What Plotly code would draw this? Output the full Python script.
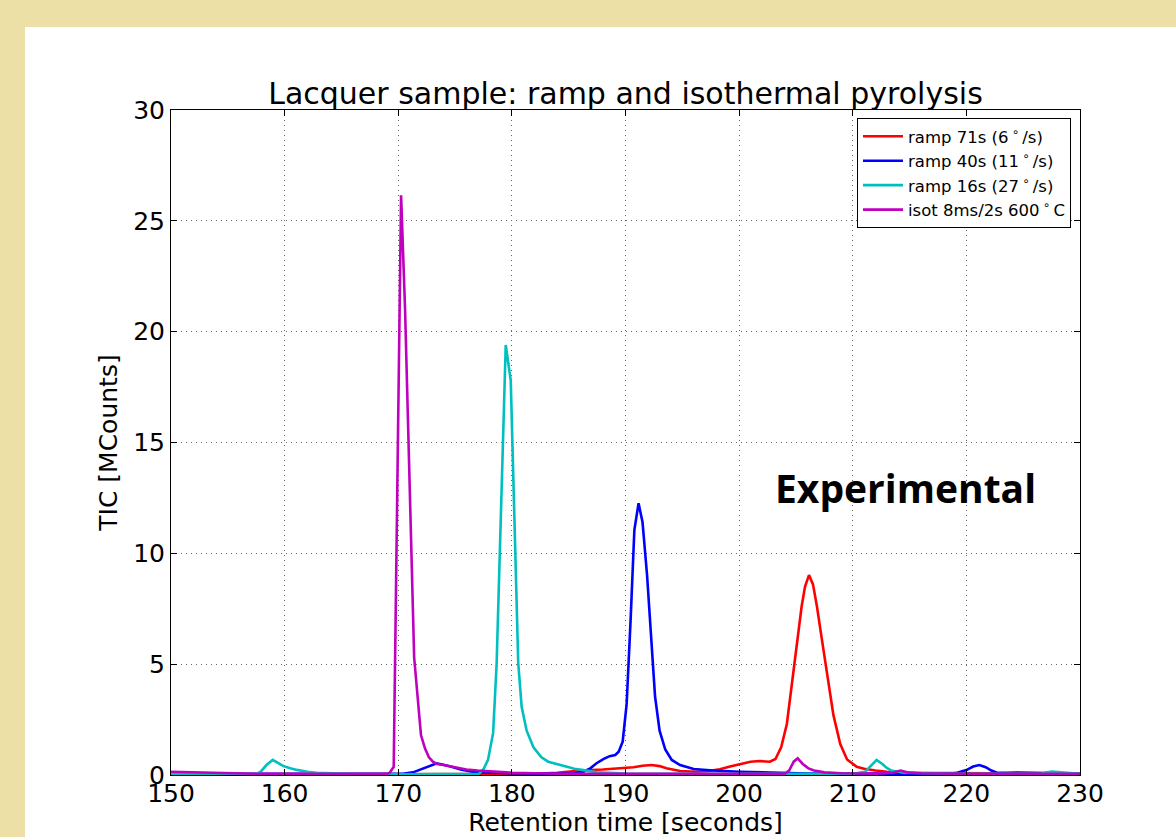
import plotly.graph_objects as go

# ---- data ----
red_x = [150, 160, 170, 180, 182, 184, 186, 188, 189, 190.7, 191.5, 192.3, 193.0, 193.6, 194.8, 196.3,
         197.3, 198.3, 199.2, 200.1, 201.0, 201.8, 202.7, 203.2, 203.7, 204.2, 204.6, 205.05, 205.5,
         205.8, 206.15, 206.5, 206.85, 207.2, 207.7, 208.3, 208.9, 209.5, 210.35, 211, 212, 213, 215,
         218, 222, 224.5, 226, 230]
red_y = [0.02, 0.02, 0.02, 0.03, 0.05, 0.1, 0.2, 0.25, 0.28, 0.35, 0.42, 0.45, 0.4, 0.3, 0.18, 0.15,
         0.18, 0.26, 0.38, 0.5, 0.6, 0.63, 0.6, 0.72, 1.25, 2.3, 4.0, 5.9, 7.6,
         8.5, 9.02, 8.6, 7.6, 6.4, 4.7, 2.7, 1.4, 0.7, 0.37, 0.28, 0.2, 0.15, 0.1,
         0.08, 0.08, 0.12, 0.1, 0.05]

blue_x = [150, 160, 170.4, 171.3, 172.2, 173.4, 174.6, 175.5, 176.5, 178, 180, 183, 185.5, 186.3, 186.9,
          187.45, 188.05, 188.6, 189.1, 189.4, 189.75, 190.1, 190.45, 190.78, 191.15, 191.5, 191.9,
          192.25, 192.6, 193.0, 193.5, 194.07, 194.8, 196.0, 197.7, 200, 203, 206, 210, 215, 218.5,
          219.2, 220, 220.6, 221.14, 221.7, 222.2, 222.7, 224, 226.5, 227.5, 228.5, 230]
blue_y = [0.05, 0.05, 0.05, 0.12, 0.3, 0.53, 0.38, 0.25, 0.15, 0.1, 0.08, 0.06, 0.08, 0.15, 0.3,
          0.53, 0.72, 0.85, 0.9, 1.05, 1.5, 3.2, 7.0, 11.05, 12.26, 11.4, 9.0,
          6.0, 3.55, 2.0, 1.15, 0.68, 0.45, 0.27, 0.2, 0.15, 0.1, 0.07, 0.06, 0.05, 0.06,
          0.1, 0.22, 0.38, 0.45, 0.35, 0.2, 0.1, 0.06, 0.06, 0.12, 0.08, 0.05]

cyan_x = [150, 157.5, 157.9, 158.4, 158.95, 159.4, 159.9, 160.5, 161.06, 162, 162.8, 165, 170, 177.1,
          177.5, 177.9, 178.35, 178.66, 179.06, 179.46, 179.9, 180.56, 180.86, 181.3, 181.9, 182.6,
          183.2, 183.9, 184.8, 185.5, 186.3, 187.5, 190, 200, 210, 211.1, 211.7, 212.1, 212.6, 213,
          213.4, 214.5, 220, 226.5, 227.5, 228.5, 230]
cyan_y = [0.05, 0.05, 0.15, 0.45, 0.68, 0.55, 0.4, 0.3, 0.23, 0.15, 0.1, 0.06, 0.03, 0.05,
          0.26, 0.68, 1.9, 5.04, 12.2, 19.4, 17.8, 5.05, 3.08, 2.0, 1.25, 0.8,
          0.6, 0.5, 0.35, 0.28, 0.22, 0.12, 0.06, 0.05, 0.05, 0.15, 0.45, 0.68, 0.5, 0.32,
          0.2, 0.1, 0.05, 0.05, 0.15, 0.1, 0.05]

mag_x = [150, 152, 154, 156, 158, 160, 165, 169, 169.25, 169.6, 170.25, 170.6, 171.4, 171.76, 172.0,
         172.35, 172.7, 173.05, 173.4, 174, 175, 176, 177, 178.5, 180, 182, 185, 195, 204.0, 204.4,
         204.8, 205.15, 205.6, 206.1, 206.6, 207.5, 209, 212, 213.5, 214.2, 214.8, 216, 220, 230]
mag_y = [0.15, 0.12, 0.08, 0.06, 0.05, 0.05, 0.05, 0.05, 0.1, 0.37, 26.15, 21.0, 5.3, 3.0, 1.8,
         1.2, 0.8, 0.6, 0.5, 0.45, 0.35, 0.25, 0.2, 0.15, 0.1, 0.08, 0.05, 0.05, 0.05, 0.2,
         0.6, 0.75, 0.5, 0.3, 0.2, 0.12, 0.08, 0.06, 0.1, 0.2, 0.12, 0.08, 0.05, 0.05]

names = ["ramp 71s (6\u2009<sup>\u2218</sup>\u2009/s)",
         "ramp 40s (11\u2009<sup>\u2218</sup>\u2009/s)",
         "ramp 16s (27\u2009<sup>\u2218</sup>\u2009/s)",
         "isot 8ms/2s 600\u2009<sup>\u2218</sup>\u2009C"]
colors = ["#FF0000", "#0000FF", "#00BFBF", "#BF00BF"]
xs = [red_x, blue_x, cyan_x, mag_x]
ys = [red_y, blue_y, cyan_y, mag_y]

x_ticks = [150, 160, 170, 180, 190, 200, 210, 220, 230]
y_ticks = [0, 5, 10, 15, 20, 25, 30]

fig = go.Figure()
for i, (x, y, n, c) in enumerate(zip(xs, ys, names, colors)):
    fig.add_trace(go.Scatter(x=x, y=y, mode="lines", name=n, legendgroup=f"g{i}",
                             line=dict(color=c, width=2.6)))

L, R, T, B = 171, 96, 110, 62
W, H = 1176, 837
pw, ph = W - L - R, H - T - B

fig.add_shape(type="rect", xref="paper", yref="paper",
              x0=(25 - L) / pw, x1=(W - L) / pw + 0.02,
              y0=-(B + 30) / ph, y1=(H - B - 27) / ph,
              fillcolor="white", line=dict(width=0), layer="below")

fig.add_annotation(text="<b>Experimental</b>", xref="paper", yref="paper",
                   x=(905 - L) / pw, y=(H - B - 487) / ph, showarrow=False,
                   xanchor="center", yanchor="middle",
                   font=dict(family="Open Sans", size=39, color="black"))

axis_common = dict(showline=True, linecolor="black", linewidth=1, mirror="ticks",
                   ticks="inside", ticklen=6, tickcolor="black", tickwidth=1,
                   showgrid=True, gridcolor="#666666", griddash="1px,4px", gridwidth=1,
                   zeroline=False, automargin=False,
                   tickfont=dict(family="DejaVu Sans", size=25, color="black"),
                   title_font=dict(family="DejaVu Sans", size=25, color="black"))

fig.update_xaxes(range=[150, 230], tickvals=x_ticks, ticktext=[str(v) for v in x_ticks],
                 title_text="Retention time [seconds]", title_standoff=2,
                 ticklabelstandoff=-4, **axis_common)
fig.update_yaxes(range=[0, 30], tickvals=y_ticks, ticktext=[str(v) for v in y_ticks],
                 title_text="TIC [MCounts]", title_standoff=8, **axis_common)

fig.update_layout(
    width=W, height=H,
    margin=dict(l=L, r=R, t=T, b=B),
    paper_bgcolor="#EDE0A6",
    plot_bgcolor="white",
    title=dict(text="Lacquer sample: ramp and isothermal pyrolysis",
               x=(625.5) / W, xanchor="center", y=1 - 93 / H, yanchor="middle",
               font=dict(family="DejaVu Sans", size=30, color="black")),
    legend=dict(x=(1071 - L) / pw, xanchor="right", y=(H - B - 118) / ph, yanchor="top",
                bgcolor="white", bordercolor="black", borderwidth=1,
                font=dict(family="DejaVu Sans", size=16.5, color="black"),
                tracegroupgap=0, itemwidth=40),
    showlegend=True,
)

fig.write_html("out.html")
